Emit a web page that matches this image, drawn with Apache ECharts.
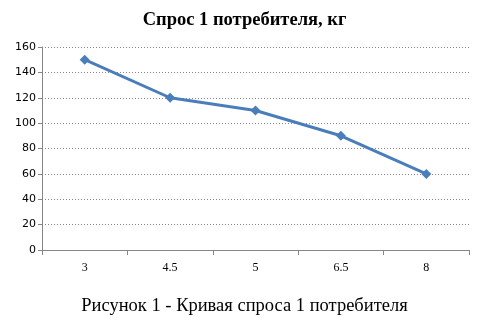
<!DOCTYPE html>
<html><head><meta charset="utf-8">
<script src="https://cdn.jsdelivr.net/npm/echarts@6/dist/echarts.min.js"></script>
<style>html,body{margin:0;padding:0;background:#fff}#c{width:489px;height:328px}</style>
</head><body><div id="c"></div>
<script>
var categories = ['3', '4.5', '5', '6.5', '8'];
var demand = [150, 120, 110, 90, 60];
var titleText = 'Спрос 1 потребителя, кг';
var captionText = 'Рисунок 1 - Кривая спроса 1 потребителя';

var chart = echarts.init(document.getElementById('c'), null, {renderer: 'canvas'});
chart.setOption({
  animation: false,
  backgroundColor: '#fff',
  title: [{
    text: titleText, left: 'center', top: 6,
    textStyle: {fontFamily: 'Liberation Serif', fontWeight: 'bold', fontSize: 18.5, color: '#000'}
  }, {
    text: captionText, left: 'center', top: 292,
    textStyle: {fontFamily: 'Liberation Serif', fontWeight: 'normal', fontSize: 18.5, color: '#000'}
  }],
  grid: {left: 42, right: 20, top: 47, bottom: 78, containLabel: false},
  xAxis: {
    type: 'category', data: categories, boundaryGap: true,
    axisLine: {lineStyle: {color: '#868686', width: 1}},
    axisTick: {show: true, length: 5, lineStyle: {color: '#868686'}},
    axisLabel: {fontFamily: 'Liberation Serif', fontSize: 12, color: '#000', margin: 12}
  },
  yAxis: {
    type: 'value', min: 0, max: 160, interval: 20,
    axisLine: {show: true, lineStyle: {color: '#868686', width: 1}},
    axisTick: {show: true, length: 4, lineStyle: {color: '#868686'}},
    axisLabel: {fontFamily: 'DejaVu Sans', fontSize: 11, color: '#000', margin: 6},
    splitLine: {lineStyle: {color: '#868686', type: [1, 2], width: 1}}
  },
  series: [{
    type: 'line', data: demand,
    symbol: 'diamond', symbolSize: 10,
    lineStyle: {color: '#4a7ebb', width: 3},
    itemStyle: {color: '#4a7ebb'}
  }]
});
</script></body></html>
